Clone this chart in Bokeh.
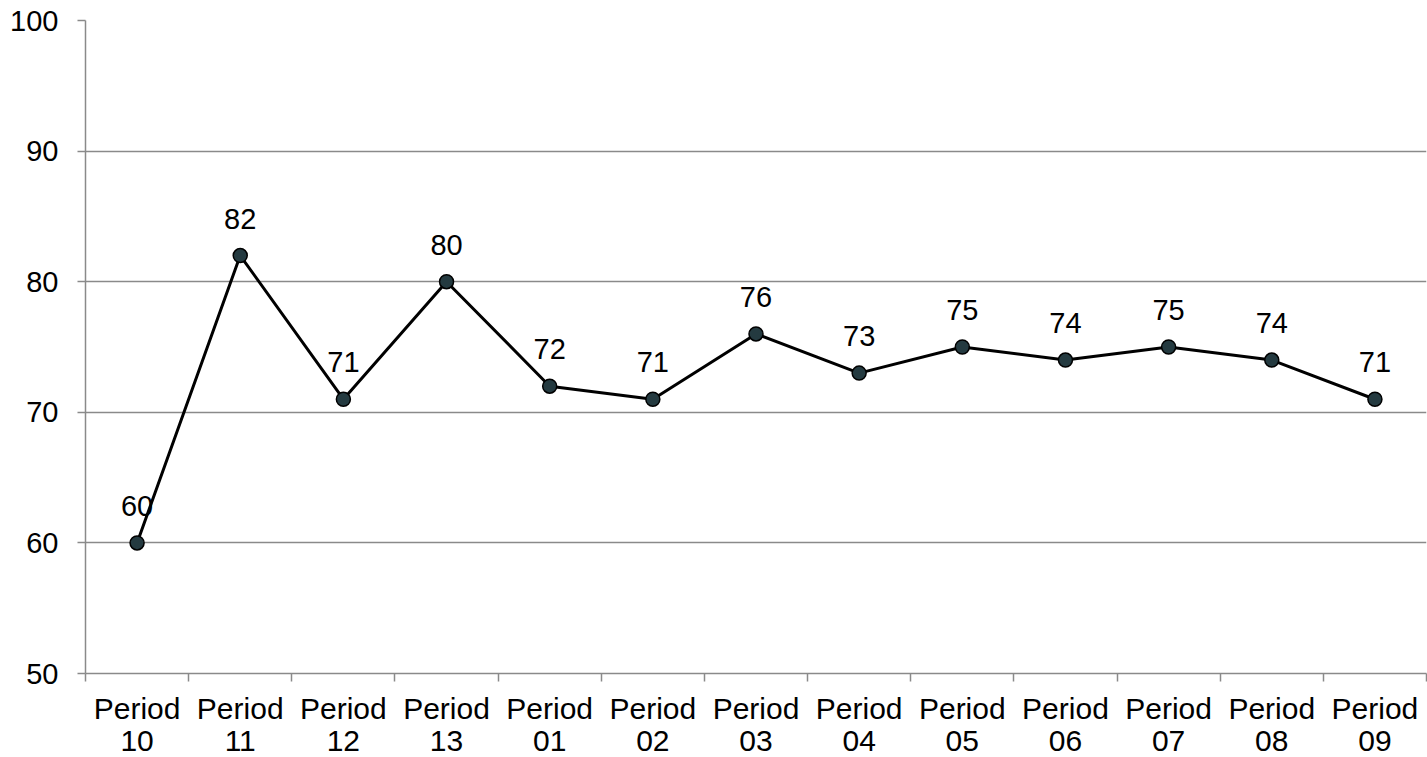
from bokeh.plotting import figure
from bokeh.models import ColumnDataSource, FixedTicker, Range1d, LinearAxis
from bokeh.embed import file_html
from bokeh.resources import INLINE
from bokeh.core.properties import value

periods = ["10", "11", "12", "13", "01", "02", "03", "04", "05", "06", "07", "08", "09"]
period_word = "Period"
values = [60, 82, 71, 80, 72, 71, 76, 73, 75, 74, 75, 74, 71]
y_ticks = [50, 60, 70, 80, 90, 100]

# category slots: slot i spans [i, i+1] on the x scale, centre at i + 0.5
centers = [i + 0.5 for i in range(len(periods))]
edges = list(range(len(periods) + 1))

src = ColumnDataSource(dict(x=centers, y=values, lab=[str(v) for v in values]))

p = figure(x_range=Range1d(0, len(periods)), y_range=Range1d(50, 100), width=1427, height=757,
           output_backend="svg", toolbar_location=None, x_axis_location=None)
p.min_border_left = 85
p.min_border_right = 1
p.min_border_top = 20
p.min_border_bottom = 84
p.outline_line_color = None

GREY = "#8a8a8a"
FS = "30px"

p.xgrid.grid_line_color = None
p.ygrid.grid_line_color = GREY
p.ygrid.grid_line_width = 1.5

ya = p.yaxis[0]
ya.ticker = FixedTicker(ticks=y_ticks)
ya.axis_line_color = GREY
ya.axis_line_width = 1.5
ya.major_tick_line_color = GREY
ya.major_tick_line_width = 1.5
ya.major_tick_in = 0
ya.major_tick_out = 8
ya.minor_tick_line_color = None
ya.major_label_text_font = "Liberation Sans"
ya.major_label_text_font_size = "29px"
ya.major_label_text_color = "black"
ya.major_label_standoff = 19

# axis line with ticks at category edges
ea = LinearAxis(ticker=FixedTicker(ticks=edges))
ea.axis_line_color = GREY
ea.axis_line_width = 1.5
ea.major_tick_line_color = GREY
ea.major_tick_line_width = 1.5
ea.major_tick_in = 0
ea.major_tick_out = 8
ea.minor_tick_line_color = None
ea.major_label_text_font_size = "1px"
ea.major_label_text_color = None
ea.major_label_standoff = 0
p.add_layout(ea, "below")


def label_axis(texts, standoff):
    ax = LinearAxis(ticker=FixedTicker(ticks=centers))
    ax.axis_line_color = None
    ax.major_tick_line_color = None
    ax.minor_tick_line_color = None
    ax.major_label_overrides = {c: t for c, t in zip(centers, texts)}
    ax.major_label_text_font = "Liberation Sans"
    ax.major_label_text_font_size = FS
    ax.major_label_text_color = "black"
    ax.major_label_standoff = standoff
    return ax


p.add_layout(label_axis([period_word] * len(periods), 4), "below")
p.add_layout(label_axis(periods, -3), "below")

p.line("x", "y", source=src, line_color="black", line_width=3)
p.scatter("x", "y", source=src, size=14, fill_color="#243a40", line_color="black", line_width=1.5)
p.text("x", "y", text="lab", source=src, text_font=value("Liberation Sans"), text_font_size="29px",
       text_align="center", text_baseline="middle", y_offset=-37, text_color="black")

open("out.html", "w").write(file_html(p, INLINE))
